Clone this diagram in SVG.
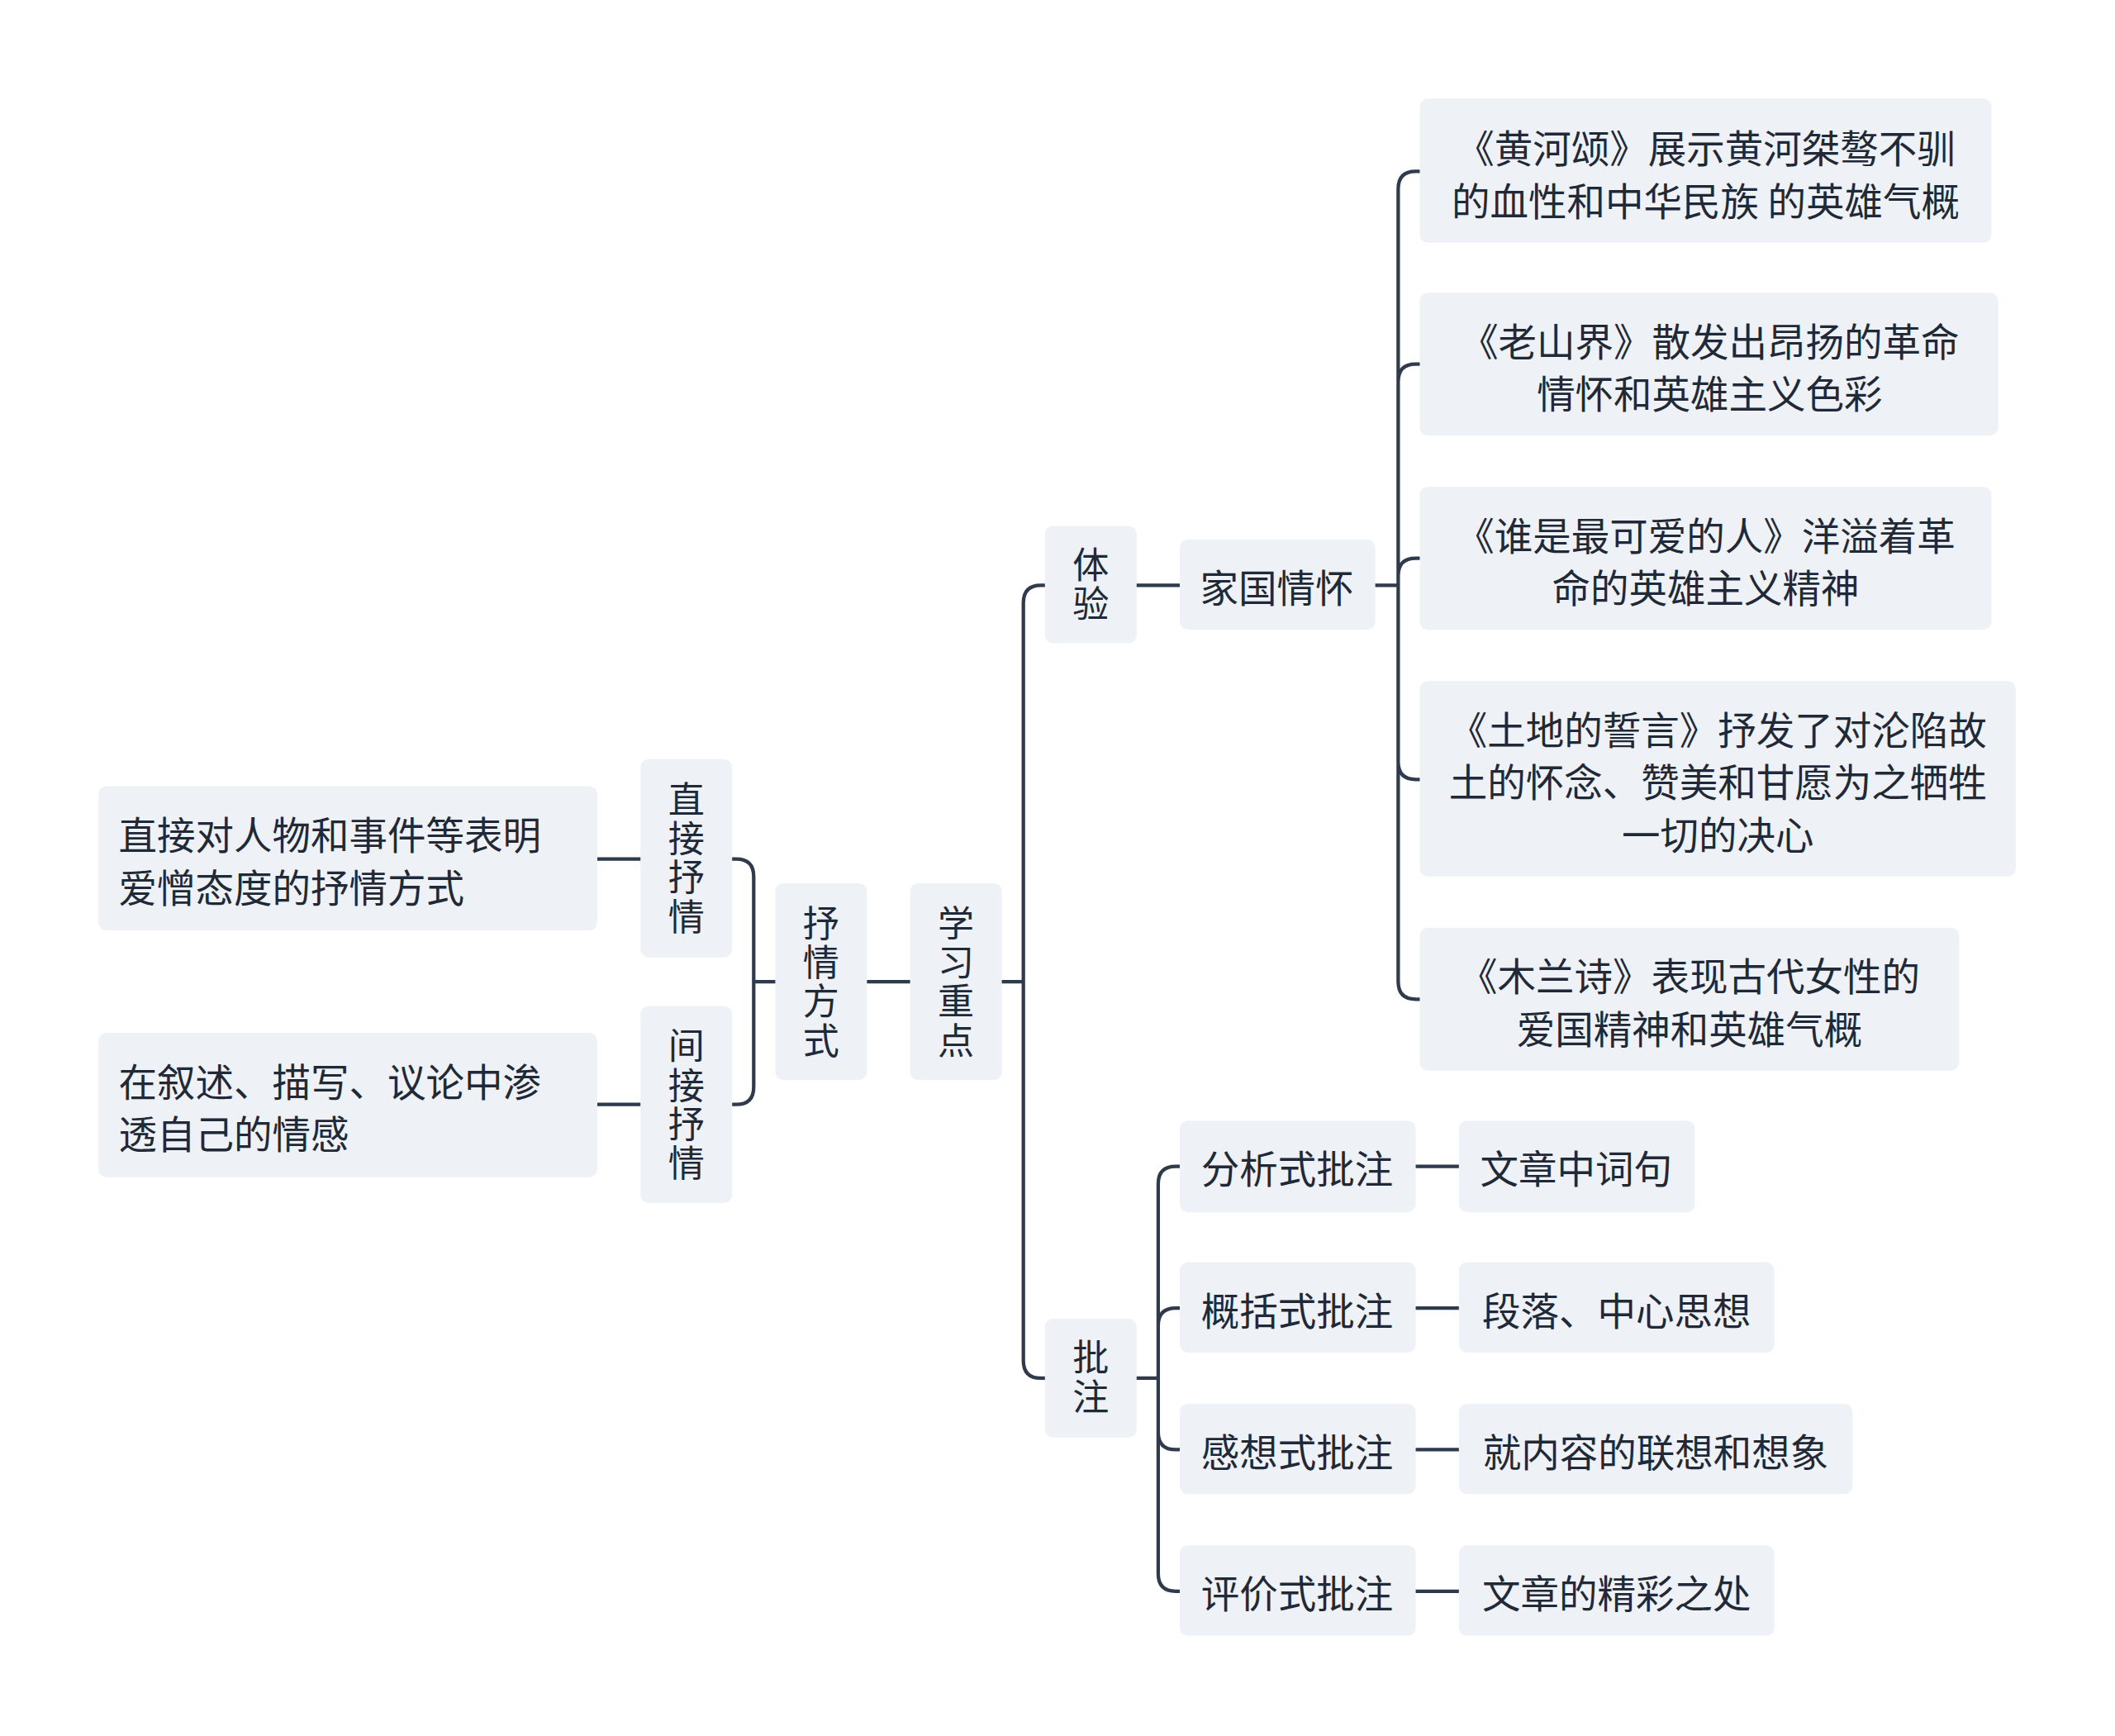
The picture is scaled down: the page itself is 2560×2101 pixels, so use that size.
<svg xmlns="http://www.w3.org/2000/svg" width="2560" height="2101" viewBox="0 0 2560 2101">
<style>
.b{fill:#eef1f5;}
.t{font-family:"Noto Sans CJK SC","Noto Sans",sans-serif;font-size:28.5px;fill:#1f2937;dominant-baseline:central;}
.v{font-family:"Noto Sans CJK SC","Noto Sans",sans-serif;font-size:27px;fill:#1f2937;writing-mode:vertical-rl;text-anchor:middle;letter-spacing:2px;}
.c{text-anchor:middle;}
.l{fill:none;stroke:#2f3b4c;stroke-width:2.6;stroke-linecap:round;}
</style>
<rect width="2560" height="2101" fill="#ffffff"/>
<g transform="scale(1.632)">
<g id="connectors">
<path class="l" d="M643 728H675M559 728H575M559 728V650Q559 637 546 637H543M559 728V806Q559 819 546 819H543M475 637H443M475 819H443"/>
<path class="l" d="M743 728H759M759 728V447Q759 434 772 434H775M759 728V1009Q759 1022 772 1022H775M843 434H875"/>
<path class="l" d="M1020 434H1037M1037 434V140Q1037 127 1050 127H1053M1037 434V283Q1037 270 1050 270H1053M1037 434V427Q1037 414 1050 414H1053M1037 434V565Q1037 578 1050 578H1053M1037 434V728Q1037 741 1050 741H1053"/>
<path class="l" d="M843 1022H859M859 1022V878Q859 865 872 865H875M859 1022V983Q859 970 872 970H875M859 1022V1062Q859 1075 872 1075H875M859 1022V1167Q859 1180 872 1180H875"/>
<path class="l" d="M1050 865H1082M1050 970H1082M1050 1075H1082M1050 1180H1082"/>
</g>
<g id="n_xxzd"><rect class="b" x="675" y="655" width="68" height="146" rx="6"/><text class="v" x="709" y="729">学习重点</text></g>
<g id="n_sqfs"><rect class="b" x="575" y="655" width="68" height="146" rx="6"/><text class="v" x="609" y="729">抒情方式</text></g>
<g id="n_zjsq"><rect class="b" x="475" y="563" width="68" height="147" rx="6"/><text class="v" x="509" y="637">直接抒情</text></g>
<g id="n_jjsq"><rect class="b" x="475" y="746" width="68" height="146" rx="6"/><text class="v" x="509" y="820">间接抒情</text></g>
<g id="n_l1"><rect class="b" x="73" y="583" width="370" height="107" rx="6"/><text class="t"><tspan x="88" y="617">直接对人物和事件等表明</tspan><tspan x="88" y="656">爱憎态度的抒情方式</tspan></text></g>
<g id="n_l2"><rect class="b" x="73" y="766" width="370" height="107" rx="6"/><text class="t"><tspan x="88" y="800">在叙述、描写、议论中渗</tspan><tspan x="88" y="839">透自己的情感</tspan></text></g>
<g id="n_ty"><rect class="b" x="775" y="390" width="68" height="87" rx="6"/><text class="v" x="809" y="434">体验</text></g>
<g id="n_pz"><rect class="b" x="775" y="978" width="68" height="88" rx="6"/><text class="v" x="809" y="1022">批注</text></g>
<g id="n_jgqh"><rect class="b" x="875" y="400" width="145" height="67" rx="6"/><text class="t c" x="947" y="434">家国情怀</text></g>
<g id="n_r1"><rect class="b" x="1053" y="73" width="424" height="107" rx="6"/><text class="t c"><tspan x="1265" y="108">《黄河颂》展示黄河桀骜不驯</tspan><tspan x="1265" y="147">的血性和中华民族 的英雄气概</tspan></text></g>
<g id="n_r2"><rect class="b" x="1053" y="217" width="429" height="106" rx="6"/><text class="t c"><tspan x="1268" y="251">《老山界》散发出昂扬的革命</tspan><tspan x="1268" y="290">情怀和英雄主义色彩</tspan></text></g>
<g id="n_r3"><rect class="b" x="1053" y="361" width="424" height="106" rx="6"/><text class="t c"><tspan x="1265" y="395">《谁是最可爱的人》洋溢着革</tspan><tspan x="1265" y="434">命的英雄主义精神</tspan></text></g>
<g id="n_r4"><rect class="b" x="1053" y="505" width="442" height="145" rx="6"/><text class="t c"><tspan x="1274" y="539">《土地的誓言》抒发了对沦陷故</tspan><tspan x="1274" y="578">土的怀念、赞美和甘愿为之牺牲</tspan><tspan x="1274" y="617">一切的决心</tspan></text></g>
<g id="n_r5"><rect class="b" x="1053" y="688" width="400" height="106" rx="6"/><text class="t c"><tspan x="1253" y="722">《木兰诗》表现古代女性的</tspan><tspan x="1253" y="761">爱国精神和英雄气概</tspan></text></g>
<g id="n_p1"><rect class="b" x="875" y="831" width="175" height="68" rx="6"/><text class="t c" x="962" y="865">分析式批注</text></g>
<g id="n_p2"><rect class="b" x="875" y="936" width="175" height="67" rx="6"/><text class="t c" x="962" y="970">概括式批注</text></g>
<g id="n_p3"><rect class="b" x="875" y="1041" width="175" height="67" rx="6"/><text class="t c" x="962" y="1075">感想式批注</text></g>
<g id="n_p4"><rect class="b" x="875" y="1146" width="175" height="67" rx="6"/><text class="t c" x="962" y="1180">评价式批注</text></g>
<g id="n_q1"><rect class="b" x="1082" y="831" width="175" height="68" rx="6"/><text class="t c" x="1169" y="865">文章中词句</text></g>
<g id="n_q2"><rect class="b" x="1082" y="936" width="234" height="67" rx="6"/><text class="t c" x="1199" y="970">段落、中心思想</text></g>
<g id="n_q3"><rect class="b" x="1082" y="1041" width="292" height="67" rx="6"/><text class="t c" x="1228" y="1075">就内容的联想和想象</text></g>
<g id="n_q4"><rect class="b" x="1082" y="1146" width="234" height="67" rx="6"/><text class="t c" x="1199" y="1180">文章的精彩之处</text></g>
</g>
</svg>
